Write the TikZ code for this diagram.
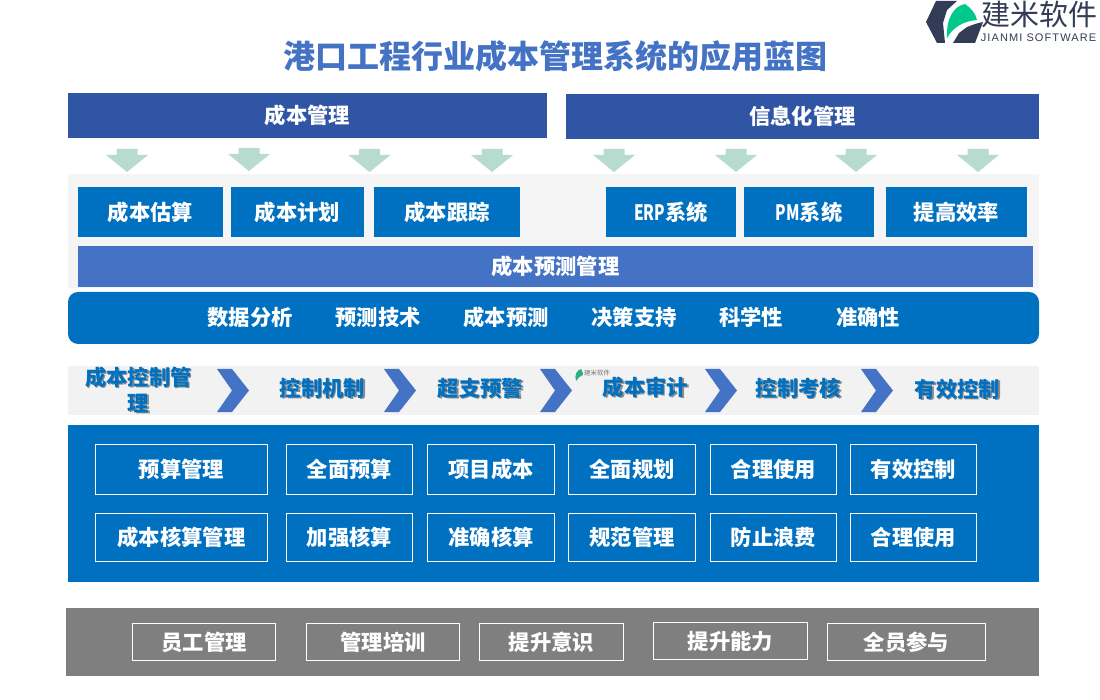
\documentclass[tikz,border=0pt]{standalone}
\usepackage{fontspec}
\setmainfont{Noto Sans CJK SC}
\newfontfamily\latinfont[LetterSpace=10]{Liberation Sans}
\usepackage{tikz}
\definecolor{cblue}{HTML}{0070C0}
\definecolor{cind}{HTML}{4472C4}
\definecolor{cdeep}{HTML}{2F55A4}
\definecolor{cmint}{HTML}{B7DBCE}
\definecolor{cgrey}{HTML}{7F7F7F}
\definecolor{cink}{HTML}{333C57}
\definecolor{cleaf}{HTML}{00C98B}
\newcommand{\shd}[1]{\leavevmode\rlap{\raisebox{-1.2pt}{\kern1.2pt\textcolor{black!45}{#1}}}#1}
\newcommand{\nrw}[1]{\scalebox{0.72}[1]{#1}}
\begin{document}
\begin{tikzpicture}[x=1pt, y=-1pt, font=\fontsize{21.3}{26}\selectfont\bfseries,
   sb/.style={fill=cblue, text=white, inner sep=0pt, minimum height=50},
   ob/.style={draw=white, line width=0.8pt, text=white, inner sep=0pt},
   hdr/.style={fill=cdeep, text=white, inner sep=0pt, minimum height=45},
   tw/.style={text=white, inner sep=0pt},
   st/.style={text=cblue, inner sep=0pt, align=center},
   downarr/.pic={\fill[cmint] (-10.5,0)--(10.5,0)--(10.5,6)--(21,6)--(0,23)--(-21,6)--(-10.5,6)--cycle;},
   chev/.pic={\fill[cind] (0,0)--(15,0)--(32,21.5)--(15,43)--(0,43)--(15,21.5)--cycle;}]
\useasboundingbox (0,0) rectangle (1100,700);
% logo
\fill[cink] (926,22)--(936,1)--(957,1)--(947,10)--(943,23)--(945,43)--(937,43)--cycle;
\fill[cink] (953,43)--(959,33)--(967,27)--(975,24)--(983,22)--(975,43)--cycle;
\fill[cleaf] (947,38) .. controls (946,18) and (954,6) .. (965,4) .. controls (971,8) and (976,14) .. (977,20) .. controls (964,21) and (953,27) .. (947,38)--cycle;
\node[inner sep=0pt, text=cink, font=\fontsize{29}{30}\selectfont] (brand) at (1039.5,14) {建米软件};
\node[inner sep=0pt, text=cink, font=\fontsize{11}{12}\selectfont\latinfont] (brandsub) at (1038.5,38) {JIANMI SOFTWARE};
% title
\node[inner sep=0pt, text=cind, font=\fontsize{32}{36}\selectfont\bfseries] (title) at (555,56) {港口工程行业成本管理系统的应用蓝图};
% top headers
\node[hdr, minimum width=479] (cost) at (307.5,115.5) {成本管理};
\node[hdr, minimum width=473] (info) at (802.5,116.5) {信息化管理};
\pic at (127,149) {downarr};
\pic at (249,148) {downarr};
\pic at (369.5,149) {downarr};
\pic at (492,149) {downarr};
\pic at (614,149) {downarr};
\pic at (736,149) {downarr};
\pic at (856,149) {downarr};
\pic at (978,149) {downarr};
% grey panel
\fill[black!4] (68,174) rectangle (1039,288);
\node[sb, minimum width=145] (est) at (150.5,212) {成本估算};
\node[sb, minimum width=133] (plan) at (297.5,212) {成本计划};
\node[sb, minimum width=146] (track) at (447,212) {成本跟踪};
\node[sb, minimum width=130] (erp) at (671,212) {\nrw{ERP}系统};
\node[sb, minimum width=130] (pm) at (809,212) {\nrw{PM}系统};
\node[sb, minimum width=141] (eff) at (956.5,212) {提高效率};
\node[fill=cind, text=white, inner sep=0pt, minimum width=955, minimum height=41] (fore) at (555.5,266.5) {成本预测管理};
% rounded bar
\fill[cblue, rounded corners=10] (68,292) rectangle (1039,344);
\node[tw] (ana) at (250,317.5) {数据分析};
\node[tw] (tech) at (378,317.5) {预测技术};
\node[tw] (pred) at (506,317.5) {成本预测};
\node[tw] (sup) at (634,317.5) {决策支持};
\node[tw] (sci) at (751,317.5) {科学性};
\node[tw] (acc) at (868,317.5) {准确性};
% steps
\fill[black!5] (68,366) rectangle (1039,415);
\pic at (217,369) {chev};
\pic at (384,369) {chev};
\pic at (540,369) {chev};
\pic at (705,369) {chev};
\pic at (861,369) {chev};
\fill[cleaf!60!gray] (576,381) .. controls (574,375) and (577,370) .. (581,369) .. controls (583,372) and (583,374) .. (583,375) .. controls (580,376) and (578,378) .. (576,381)--cycle;
\node[inner sep=0pt, text=black!55, font=\fontsize{6.5}{8}\selectfont] (mark) at (597,373) {建米软件};
\node[st] (s1) at (138.5,390) {\shd{成本控制管}\\[0pt]\shd{理}};
\node[st] (s2) at (322.5,389) {\shd{控制机制}};
\node[st] (s3) at (480.5,389) {\shd{超支预警}};
\node[st] (s4) at (645.5,388) {\shd{成本审计}};
\node[st] (s5) at (798.5,389) {\shd{控制考核}};
\node[st] (s6) at (957.5,390) {\shd{有效控制}};
% blue panel
\fill[cblue] (68,425) rectangle (1039,582);
\node[ob, minimum width=172, minimum height=50] (a1) at (181.5,469.5) {预算管理};
\node[ob, minimum width=126, minimum height=50] (a2) at (349.5,469.5) {全面预算};
\node[ob, minimum width=127, minimum height=50] (a3) at (491,469.5) {项目成本};
\node[ob, minimum width=127, minimum height=50] (a4) at (632,469.5) {全面规划};
\node[ob, minimum width=126, minimum height=50] (a5) at (773.5,469.5) {合理使用};
\node[ob, minimum width=126, minimum height=50] (a6) at (913.5,469.5) {有效控制};
\node[ob, minimum width=172, minimum height=48] (b1) at (181.5,537.5) {成本核算管理};
\node[ob, minimum width=126, minimum height=48] (b2) at (349.5,537.5) {加强核算};
\node[ob, minimum width=127, minimum height=48] (b3) at (491,537.5) {准确核算};
\node[ob, minimum width=127, minimum height=48] (b4) at (632,537) {规范管理};
\node[ob, minimum width=126, minimum height=48] (b5) at (773.5,537.5) {防止浪费};
\node[ob, minimum width=126, minimum height=48] (b6) at (913.5,537) {合理使用};
% bottom panel
\fill[cgrey] (66,608) rectangle (1039,676);
\node[ob, minimum width=143, minimum height=37] (c1) at (204,642) {员工管理};
\node[ob, minimum width=153, minimum height=37] (c2) at (383,642) {管理培训};
\node[ob, minimum width=144, minimum height=37] (c3) at (551.5,642) {提升意识};
\node[ob, minimum width=154, minimum height=37] (c4) at (730.5,641) {提升能力};
\node[ob, minimum width=158, minimum height=37] (c5) at (906.5,642) {全员参与};
\end{tikzpicture}
\end{document}
